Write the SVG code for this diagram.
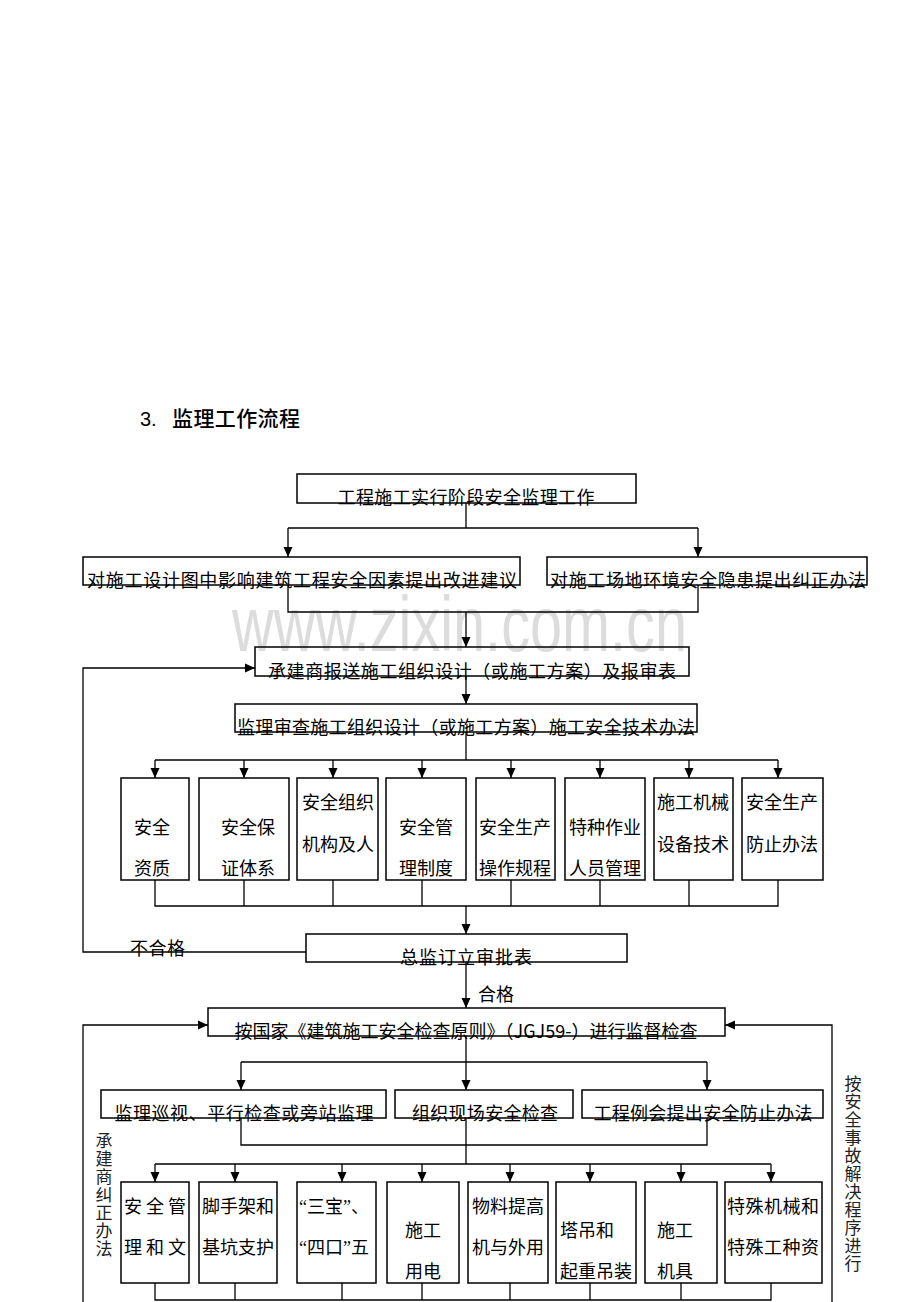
<svg xmlns="http://www.w3.org/2000/svg" width="920" height="1302" viewBox="0 0 920 1302">
<style>
.bx{fill:none;stroke:#000;stroke-width:1.5}
.ln{fill:none;stroke:#000;stroke-width:1.3}
.ar{marker-end:url(#a)}
.t{font-family:"Noto Sans CJK SC","Noto Sans",sans-serif;font-size:18px;fill:#000}
.m{text-anchor:middle}
.v{font-family:"Noto Sans CJK SC",sans-serif;font-size:17px;fill:#222;writing-mode:vertical-rl;letter-spacing:1px}
.q{font-family:"Liberation Serif",serif}
</style>
<defs>
<marker id="a" markerWidth="10" markerHeight="10" refX="10" refY="5" orient="auto" markerUnits="userSpaceOnUse"><path d="M0,0.5 L10,5 L0,9.5 z" fill="#000"/></marker>
</defs>
<rect width="920" height="1302" fill="#fff"/>
<text x="232" y="651" font-family="Liberation Sans, Arial, sans-serif" font-size="78" fill="#dcdcdc" textLength="455" lengthAdjust="spacingAndGlyphs">www.zixin.com.cn</text>
<g id="title">
<text x="140" y="426" font-family="Liberation Sans, sans-serif" font-size="20" fill="#000">3.</text>
<text x="172" y="426" font-family="Noto Sans CJK SC, sans-serif" font-size="21" font-weight="500" fill="#000" textLength="128">监理工作流程</text>
</g>
<g id="connectors">
<path class="ln" d="M466,503 V528 M288,528 H698"/>
<path class="ln ar" d="M288,528 V557"/>
<path class="ln ar" d="M698,528 V557"/>
<path class="ln" d="M288,585 V612 H698 V585"/>
<path class="ln ar" d="M466,612 V647"/>
<path class="ln ar" d="M466,676 V704"/>
<path class="ln" d="M466,732 V760 M155,760 H778"/>
<path class="ln ar" d="M155,760 V778"/>
<path class="ln ar" d="M244,760 V778"/>
<path class="ln ar" d="M333,760 V778"/>
<path class="ln ar" d="M422,760 V778"/>
<path class="ln ar" d="M511,760 V778"/>
<path class="ln ar" d="M600,760 V778"/>
<path class="ln ar" d="M689,760 V778"/>
<path class="ln ar" d="M778,760 V778"/>
<path class="ln" d="M155,880 V906 H778 V880 M244,880 V906 M333,880 V906 M422,880 V906 M511,880 V906 M600,880 V906 M689,880 V906"/>
<path class="ln ar" d="M466,906 V934"/>
<path class="ln ar" d="M306,952 H83 V668 H255"/>
<path class="ln ar" d="M466,962 V1008"/>
<path class="ln ar" d="M83,1302 V1025 H208"/>
<path class="ln ar" d="M832,1302 V1025 H725"/>
<path class="ln" d="M466,1036 V1062 M241,1062 H707"/>
<path class="ln ar" d="M241,1062 V1090"/>
<path class="ln ar" d="M466,1062 V1090"/>
<path class="ln ar" d="M707,1062 V1090"/>
<path class="ln" d="M241,1118 V1145 H707 V1118 M466,1118 V1164 M155,1164 H771"/>
<path class="ln ar" d="M155,1164 V1182"/>
<path class="ln ar" d="M235,1164 V1182"/>
<path class="ln ar" d="M342,1164 V1182"/>
<path class="ln ar" d="M422,1164 V1182"/>
<path class="ln ar" d="M510,1164 V1182"/>
<path class="ln ar" d="M590,1164 V1182"/>
<path class="ln ar" d="M681,1164 V1182"/>
<path class="ln ar" d="M771,1164 V1182"/>
<path class="ln" d="M155,1283 V1300 H771 V1283 M235,1283 V1300 M342,1283 V1300 M422,1283 V1300 M510,1283 V1300 M590,1283 V1300 M681,1283 V1300"/>
</g>
<g id="n1"><rect class="bx" x="297" y="474" width="339" height="29"/><text class="t m" x="466" y="504" textLength="257">工程施工实行阶段安全监理工作</text></g>
<g id="n2a"><rect class="bx" x="83" y="557" width="437" height="28"/><text class="t m" x="302" y="587" textLength="430">对施工设计图中影响建筑工程安全因素提出改进建议</text></g>
<g id="n2b"><rect class="bx" x="547" y="557" width="320" height="28"/><text class="t m" x="708" y="587" textLength="316">对施工场地环境安全隐患提出纠正办法</text></g>
<g id="n3"><rect class="bx" x="255" y="647" width="434" height="29"/><text class="t m" x="472" y="678" textLength="408">承建商报送施工组织设计（或施工方案）及报审表</text></g>
<g id="n4"><rect class="bx" x="235" y="704" width="462" height="28"/><text class="t m" x="466" y="734" textLength="458">监理审查施工组织设计（或施工方案）施工安全技术办法</text></g>
<g id="r1"><rect class="bx" x="121" y="778" width="68" height="102"/><text class="t m" x="152" y="834">安全</text><text class="t m" x="152" y="875">资质</text></g>
<g id="r2"><rect class="bx" x="199" y="778" width="90" height="102"/><text class="t m" x="248" y="834">安全保</text><text class="t m" x="248" y="875">证体系</text></g>
<g id="r3"><rect class="bx" x="297" y="778" width="81" height="102"/><text class="t m" x="338" y="809">安全组织</text><text class="t m" x="338" y="851">机构及人</text></g>
<g id="r4"><rect class="bx" x="386" y="778" width="80" height="102"/><text class="t m" x="426" y="834">安全管</text><text class="t m" x="426" y="875">理制度</text></g>
<g id="r5"><rect class="bx" x="476" y="778" width="79" height="102"/><text class="t m" x="515" y="834">安全生产</text><text class="t m" x="515" y="875">操作规程</text></g>
<g id="r6"><rect class="bx" x="565" y="778" width="80" height="102"/><text class="t m" x="605" y="834">特种作业</text><text class="t m" x="605" y="875">人员管理</text></g>
<g id="r7"><rect class="bx" x="654" y="778" width="79" height="102"/><text class="t m" x="693" y="809">施工机械</text><text class="t m" x="693" y="851">设备技术</text></g>
<g id="r8"><rect class="bx" x="742" y="778" width="81" height="102"/><text class="t m" x="782" y="809">安全生产</text><text class="t m" x="782" y="851">防止办法</text></g>
<g id="n5"><rect class="bx" x="306" y="934" width="321" height="28"/><text class="t m" x="466" y="964" textLength="132">总监订立审批表</text></g>
<g id="lbl1"><text class="t" x="130" y="955" textLength="55">不合格</text></g>
<g id="lbl2"><text class="t" x="478" y="1001" textLength="36">合格</text></g>
<g id="n6"><rect class="bx" x="208" y="1008" width="517" height="28"/><text class="t m" x="466" y="1038" textLength="463">按国家《建筑施工安全检查原则》（JGJ59-）进行监督检查</text></g>
<g id="s1"><rect class="bx" x="101" y="1090" width="285" height="28"/><text class="t m" x="244" y="1120" textLength="259">监理巡视、平行检查或旁站监理</text></g>
<g id="s2"><rect class="bx" x="395" y="1090" width="178" height="28"/><text class="t m" x="485" y="1120" textLength="146">组织现场安全检查</text></g>
<g id="s3"><rect class="bx" x="582" y="1090" width="241" height="28"/><text class="t m" x="703" y="1120" textLength="219">工程例会提出安全防止办法</text></g>
<g id="b1"><rect class="bx" x="121" y="1182" width="68" height="101"/><text class="t m" x="155" y="1213" textLength="62">安全管</text><text class="t m" x="155" y="1254" textLength="62">理和文</text></g>
<g id="b2"><rect class="bx" x="199" y="1182" width="78" height="101"/><text class="t m" x="238" y="1213">脚手架和</text><text class="t m" x="238" y="1254">基坑支护</text></g>
<g id="b3"><rect class="bx" x="297" y="1182" width="79" height="101"/><text class="t" x="299" y="1213"><tspan class="q">“</tspan>三宝<tspan class="q">”</tspan>、</text><text class="t" x="299" y="1254"><tspan class="q">“</tspan>四口<tspan class="q">”</tspan>五</text></g>
<g id="b4"><rect class="bx" x="387" y="1182" width="72" height="101"/><text class="t m" x="423" y="1237">施工</text><text class="t m" x="423" y="1278">用电</text></g>
<g id="b5"><rect class="bx" x="468" y="1182" width="80" height="101"/><text class="t m" x="508" y="1213">物料提高</text><text class="t m" x="508" y="1254">机与外用</text></g>
<g id="b6"><rect class="bx" x="556" y="1182" width="80" height="101"/><text class="t" x="560" y="1237">塔吊和</text><text class="t" x="560" y="1278">起重吊装</text></g>
<g id="b7"><rect class="bx" x="645" y="1182" width="72" height="101"/><text class="t m" x="675" y="1237">施工</text><text class="t m" x="675" y="1278">机具</text></g>
<g id="b8"><rect class="bx" x="725" y="1182" width="97" height="101"/><text class="t m" x="773" y="1213" textLength="92">特殊机械和</text><text class="t m" x="773" y="1254" textLength="92">特殊工种资</text></g>
<g id="vl"><text class="v" x="104" y="1132">承建商纠正办法</text></g>
<g id="vr"><text class="v" x="853" y="1075">按安全事故解决程序进行</text></g>
</svg>
